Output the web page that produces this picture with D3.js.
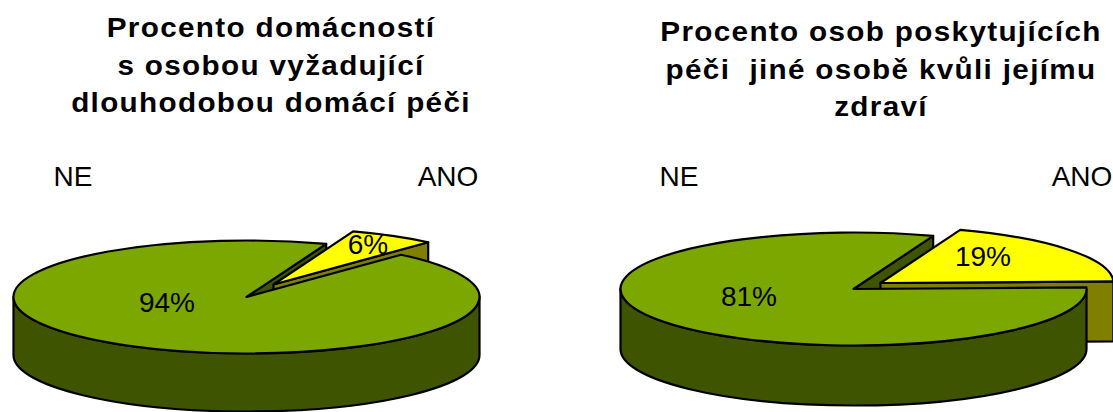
<!DOCTYPE html>
<html>
<head>
<meta charset="utf-8">
<script src="https://cdn.jsdelivr.net/npm/d3@7"></script>
<style>
  html, body { margin: 0; padding: 0; background: #fff; overflow: hidden; }
  svg { display: block; }
  text { font-family: "Liberation Sans", Arial, sans-serif; fill: #000; white-space: pre; }
  .title { font-weight: bold; font-size: 28px; letter-spacing: 1.25px; text-anchor: middle; }
  .label { font-size: 28px; text-anchor: middle; }
</style>
</head>
<body>
<div class="pie-charts"></div>
<script>
const categories = ["ANO", "NE"]
const valuesHouseholds = [6, 94]
const valuesCarers = [19, 81]
const titleHouseholds = ["Procento domácností", "s osobou vyžadující", "dlouhodobou domácí péči"]
const titleCarers = ["Procento osob poskytujících", "péči  jiné osobě kvůli jejímu", "zdraví"]

const dimensions = { width: 1113, height: 412, rx: 233, ry: 56.5, stroke: 2.2 }
const firstSliceAngle = 20 * Math.PI / 180

const colors = { ANO: "#ffff00", NE: "#7ba700" }
const sideColors = { ANO: "#807f00", NE: "#3f5400" }

const svg = d3.select(".pie-charts")
  .append("svg")
  .attr("width", dimensions.width)
  .attr("height", dimensions.height)

// Point on the flattened rim, angle 0 is at the top and goes clockwise like d3.arc
const rim = angle => [
  dimensions.rx * Math.sin(angle),
  -dimensions.ry * Math.cos(angle)
]

const cutFace = (angle, depth) => {
  const [x, y] = rim(angle)
  return `M0,0L${x},${y}L${x},${y + depth}L0,${depth}Z`
}

const outerWall = (from, to, depth) => {
  const { rx, ry } = dimensions
  const [x0, y0] = rim(from)
  const [x1, y1] = rim(to)
  return `M${x0},${y0}A${rx},${ry} 0 0 1 ${x1},${y1}L${x1},${y1 + depth}A${rx},${ry} 0 0 0 ${x0},${y0 + depth}Z`
}

const drawPie = ({ values, center, depth, explode, titleLines, titleX, titleY, labels }) => {
  const pie = d3.pie()
    .sort(null)
    .startAngle(firstSliceAngle)
    .endAngle(firstSliceAngle + 2 * Math.PI)

  const [ano, ne] = pie(values)
  const arcPath = d3.arc().innerRadius(0).outerRadius(dimensions.rx)
  const squash = `scale(1, ${dimensions.ry / dimensions.rx})`

  const graph = svg.append("g")
    .attr("transform", `translate(${center[0]}, ${center[1]})`)

  const shape = (parent, d, fill) => parent.append("path")
    .attr("d", d)
    .attr("fill", fill)
    .attr("stroke", "#000")
    .attr("stroke-width", dimensions.stroke)
    .attr("stroke-linejoin", "round")
    .attr("vector-effect", "non-scaling-stroke")

  // back to front: notch wall of the big slice, pulled out slice, big slice
  shape(graph, cutFace(ne.endAngle, depth), sideColors.NE)

  const pulled = graph.append("g")
    .attr("transform", `translate(${explode[0]}, ${explode[1]})`)
  shape(pulled, cutFace(ano.endAngle, depth), sideColors.ANO)
  shape(pulled.append("g").attr("transform", squash), arcPath(ano), colors.ANO)

  shape(graph, outerWall(Math.PI / 2, 3 * Math.PI / 2, depth), sideColors.NE)
  shape(graph.append("g").attr("transform", squash), arcPath(ne), colors.NE)

  // the title glyphs in the original are a bit wider than the font
  svg.append("g").selectAll("text")
    .data(titleLines)
    .join("text")
    .attr("class", "title")
    .attr("transform", (d, i) => `translate(${titleX}, ${titleY + i * 37.5}) scale(1.06, 1)`)
    .text(d => d)

  const percent = d3.format(".0%")
  const texts = [
    { text: categories[0], pos: labels.ano },
    { text: categories[1], pos: labels.ne },
    { text: percent(values[0] / 100), pos: labels.anoValue },
    { text: percent(values[1] / 100), pos: labels.neValue }
  ]
  svg.append("g").selectAll("text")
    .data(texts)
    .join("text")
    .attr("class", "label")
    .attr("x", d => d.pos[0])
    .attr("y", d => d.pos[1])
    .text(d => d.text)
}

drawPie({
  values: valuesHouseholds,
  center: [246.5, 297],
  depth: 58,
  explode: [27, -12.5],
  titleLines: titleHouseholds,
  titleX: 271,
  titleY: 37,
  labels: { ano: [448, 186], ne: [73, 186], anoValue: [368, 254], neValue: [167, 312] }
})

drawPie({
  values: valuesCarers,
  center: [853.5, 289],
  depth: 60,
  explode: [27, -6],
  titleLines: titleCarers,
  titleX: 881,
  titleY: 41,
  labels: { ano: [1082, 186], ne: [679, 186], anoValue: [983, 266], neValue: [749, 306] }
})
</script>
</body>
</html>
